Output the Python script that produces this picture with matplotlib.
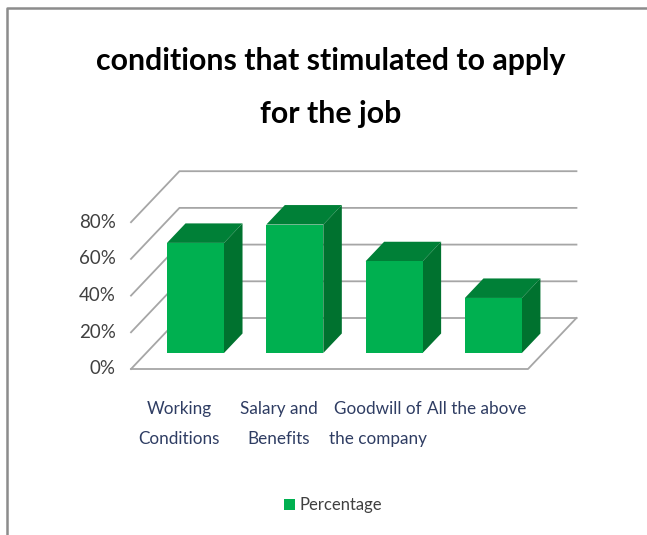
import matplotlib
matplotlib.use('Agg')
import matplotlib.pyplot as plt

# Chart data
categories = ['Working\nConditions', 'Salary and\nBenefits', 'Goodwill of\nthe company', 'All the above']
percentages = [60, 70, 50, 30]
tick_values = [0, 20, 40, 60, 80]
tick_labels = ['0%', '20%', '40%', '60%', '80%']
series_name = 'Percentage'
title = 'conditions that stimulated to apply\nfor the job'

W, H = 647, 535
CAT_PX = 99.3      # pixels between categories
PCT_PX = 1.835     # pixels per percentage point
X0_PX = 195.5      # centre of the first bar
Y0_PX = 353        # base line of the bars
BAR_W = 57 / CAT_PX
SHEAR = 0.95 * PCT_PX / CAT_PX  # sideways shift for the fake 3D depth

# depth is measured in percentage points, 0 is the front plane of the bars
BAR_DEPTH = 19.5 / PCT_PX
FLOOR_FRONT = -16 / PCT_PX
FLOOR_BACK = 35 / PCT_PX
LEFT = (131 + 15.2 - X0_PX) / CAT_PX   # left wall edge on the bar plane
RIGHT = (528 + 15.2 - X0_PX) / CAT_PX

FONT = ['Lato', 'DejaVu Sans']
GRID = '#a6a6a6'


def project(x, y, depth):
    return x + depth * SHEAR, y + depth


fig = plt.figure(figsize=(W / 100, H / 100), dpi=100)
ax = fig.add_axes([0, 0, 1, 1])
ax.set_xlim(-X0_PX / CAT_PX, (W - X0_PX) / CAT_PX)
ax.set_ylim((Y0_PX - H) / PCT_PX, Y0_PX / PCT_PX)
ax.axis('off')

# outer frame, open on the right and bottom
ax.add_line(plt.Line2D([7 / W, 7 / W, 1], [0, 1 - 8 / H, 1 - 8 / H], transform=ax.transAxes,
                       color='#8c8c8c', lw=1.8, zorder=1))

# gridlines over the left wall and the back wall
for v in tick_values:
    x1, y1 = project(LEFT, v, FLOOR_FRONT)
    x2, y2 = project(LEFT, v, FLOOR_BACK)
    x3 = project(RIGHT, v, FLOOR_BACK)[0]
    ax.plot([x1, x2, x3], [y1, y2, y2], color=GRID, lw=1.3, zorder=2, solid_joinstyle='miter')

# floor front edge and right edge
fx1, fy1 = project(LEFT, 0, FLOOR_FRONT)
fx2, fy2 = project(RIGHT, 0, FLOOR_FRONT)
fx3, fy3 = project(RIGHT, 0, FLOOR_BACK)
ax.plot([fx1, fx2, fx3], [fy1, fy2, fy3], color=GRID, lw=1.3, zorder=2)

# bars: front face through bar(), top and side faces sheared behind it
xs = list(range(len(percentages)))
ax.bar(xs, percentages, width=BAR_W, color='#00b050', label=series_name, zorder=4)
for x, v in zip(xs, percentages):
    l, r = x - BAR_W / 2, x + BAR_W / 2
    ax.fill([l, r, project(r, v, BAR_DEPTH)[0], project(l, v, BAR_DEPTH)[0]],
            [v, v, v + BAR_DEPTH, v + BAR_DEPTH], color='#008037', lw=0, zorder=3)
    ax.fill([r, project(r, 0, BAR_DEPTH)[0], project(r, v, BAR_DEPTH)[0], r],
            [0, BAR_DEPTH, v + BAR_DEPTH, v], color='#00722f', lw=0, zorder=3)

# tick labels
for v, lab in zip(tick_values, tick_labels):
    tx, ty = project(LEFT, v, FLOOR_FRONT)
    ax.annotate(lab, (tx, ty), xytext=(-15, 0), textcoords='offset pixels', ha='right', va='center',
                fontsize=13.5, color='#404040', family=FONT)

# category labels sit left of the bars, under the front edge of the floor
label_y = (Y0_PX - 401) / PCT_PX
for x, lab in zip(xs, categories):
    ax.text(x - 0.165, label_y, lab, ha='center', va='top', fontsize=12.3, color='#2f3d63',
            linespacing=2.1, family=FONT)

ax.text(331 / W, 1 - 87.5 / H, title, transform=ax.transAxes, ha='center', va='center', fontsize=21.8,
        fontweight='bold', color='black', linespacing=2.13, family=FONT)

ax.legend(loc='center', bbox_to_anchor=(333 / W, 1 - 505 / H), frameon=False, handlelength=0.66,
          handleheight=0.66, handletextpad=0.3, prop={'family': FONT, 'size': 12}, labelcolor='#404040')

fig.savefig('out.png', dpi=100)
